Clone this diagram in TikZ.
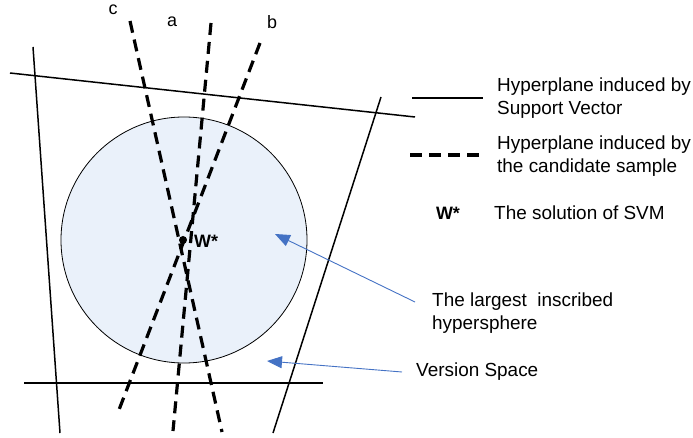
\documentclass[tikz,border=0pt]{standalone}
\usepackage{fontspec}
\setmainfont{Liberation Sans}
\usetikzlibrary{positioning,arrows.meta}
\definecolor{arrowblue}{HTML}{4472C4}
\definecolor{spherefill}{HTML}{EAF1FA}

\begin{document}
\begin{tikzpicture}[x=1bp, y=-1bp,
  svline/.style={line width=1.5bp},
  candline/.style={line width=3.2bp, dash pattern=on 12bp off 7bp},
  pointer/.style={draw=arrowblue, line width=0.9bp, -{Triangle[length=15bp,width=12bp]}},
  txt/.style={font=\fontsize{19}{23}\selectfont, anchor=west, align=left, inner sep=0pt},
  lbl/.style={font=\fontsize{18}{20}\selectfont, inner sep=0pt},
  wlbl/.style={font=\bfseries\fontsize{18}{20}\selectfont, inner sep=0pt}
]
\useasboundingbox (0,0) rectangle (693,438);

% largest inscribed hypersphere
\node[circle, draw, fill=spherefill, line width=0.8bp, minimum size=246bp, inner sep=0pt] (sphere) at (184,240) {};

% hyperplanes of the support vectors
\draw[svline] (10,73) -- (415,117);
\draw[svline] (33,47) -- (60,433);
\draw[svline] (381,97) -- (273,433);
\draw[svline] (24,383) -- (323,383);

% hyperplanes of the candidate samples
\draw[candline] (130,21) -- (222,432);
\draw[candline] (211,23) -- (173,431);
\draw[candline] (260,43) -- (117,415);
\node[lbl] (lblc) at (113,10) {c};
\node[lbl] (lbla) at (172,22) {a};
\node[lbl] (lblb) at (272,22) {b};

% solution point
\fill (183,240) circle[radius=4bp];
\node[wlbl, anchor=west] (wstar) at (194,241) {W*};

% legend
\draw[svline] (412,98) -- (483,98);
\node[txt] (lgdsv) at (497,98.5) {Hyperplane induced by\\Support Vector};
\draw[candline] (410,155) -- (483,155);
\node[txt] (lgdcand) at (497,156.5) {Hyperplane induced by\\the candidate sample};
\node[wlbl] (lgdw) at (448,213) {W*};
\node[txt] (lgdsol) at (494,213) {The solution of SVM};

% pointers
\node[txt] (lblsphere) at (432,313) {The largest\ \ inscribed\\hypersphere};
\node[txt] (lblvs) at (416,372) {Version Space};
\coordinate (spheretip) at (275,234);
\coordinate (vstip) at (267,361);
\draw[pointer] ([xshift=-17bp,yshift=11bp]lblsphere.west) -- (spheretip);
\draw[pointer] ([xshift=-14bp]lblvs.west) -- (vstip);
\end{tikzpicture}
\end{document}
